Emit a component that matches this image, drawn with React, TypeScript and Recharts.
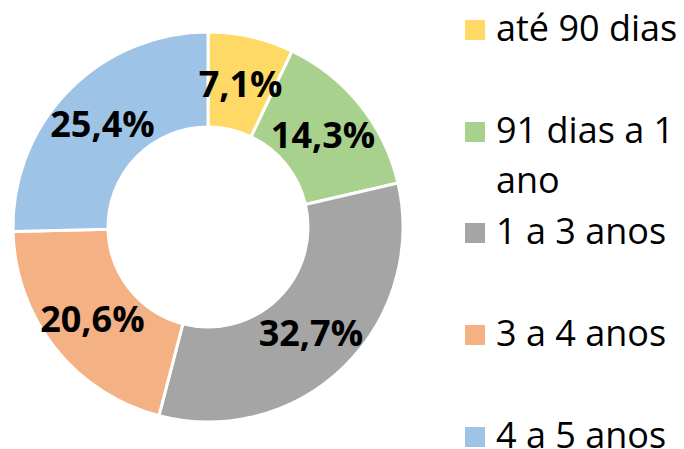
import React from 'react';
import { PieChart, Pie, Cell, Legend } from 'recharts';

const categories = ['até 90 dias', '91 dias a 1 ano', '1 a 3 anos', '3 a 4 anos', '4 a 5 anos'];
const shares = [7.1, 14.3, 32.7, 20.6, 25.4];
const colors = ['#FFD966', '#A9D18E', '#A5A5A5', '#F4B183', '#9DC3E6'];

const data = categories.map((name, i) => ({ name, value: shares[i] }));

const RAD = Math.PI / 180;

const renderLabel = (props: any) => {
  const { cx, cy, midAngle, innerRadius, outerRadius, value } = props;
  const r = (innerRadius + outerRadius) / 2;
  const x = cx + r * Math.cos(-midAngle * RAD);
  const y = cy + r * Math.sin(-midAngle * RAD);
  return (
    <text
      x={x}
      y={y}
      textAnchor="middle"
      dominantBaseline="central"
      fontFamily="'Open Sans', sans-serif"
      fontWeight={700}
      fontSize={36}
      fill="#000"
    >
      {value.toFixed(1).replace('.', ',') + '%'}
    </text>
  );
};

const renderLegend = () => {
  return (
    <div style={{ position: 'relative', width: 219, height: 449 }}>
      {categories.map((name, i) => {
        const center = 30 + i * 101.7;
        return (
          <div key={name} style={{ position: 'absolute', left: 0, top: center - 27, width: 219 }}>
            <div
              style={{
                position: 'absolute',
                left: 0,
                top: 27 - 10,
                width: 20,
                height: 20,
                background: colors[i],
              }}
            />
            <div
              style={{
                position: 'absolute',
                left: 31,
                top: 0,
                width: 188,
                fontFamily: "'Open Sans', sans-serif",
                fontSize: 36,
                lineHeight: '50px',
                color: '#000',
                whiteSpace: 'normal',
              }}
            >
              {name}
            </div>
          </div>
        );
      })}
    </div>
  );
};

export default function App() {
  return (
    <div style={{ position: 'fixed', left: 0, top: 0, background: '#fff', overflow: 'hidden' }}>
      <PieChart width={684} height={449} margin={{ top: 0, right: 0, bottom: 0, left: 0 }}>
        <Pie
          data={data}
          dataKey="value"
          nameKey="name"
          cx={208}
          cy={227}
          innerRadius={100}
          outerRadius={195}
          startAngle={90}
          endAngle={-270}
          stroke="#fff"
          strokeWidth={3}
          label={renderLabel}
          labelLine={false}
          isAnimationActive={false}
        >
          {data.map((d, i) => (
            <Cell key={d.name} fill={colors[i]} />
          ))}
        </Pie>
        <Legend
          layout="vertical"
          align="right"
          verticalAlign="top"
          content={renderLegend}
          wrapperStyle={{ position: 'absolute', left: 465, top: 0, width: 219, height: 449 }}
        />
      </PieChart>
    </div>
  );
}
